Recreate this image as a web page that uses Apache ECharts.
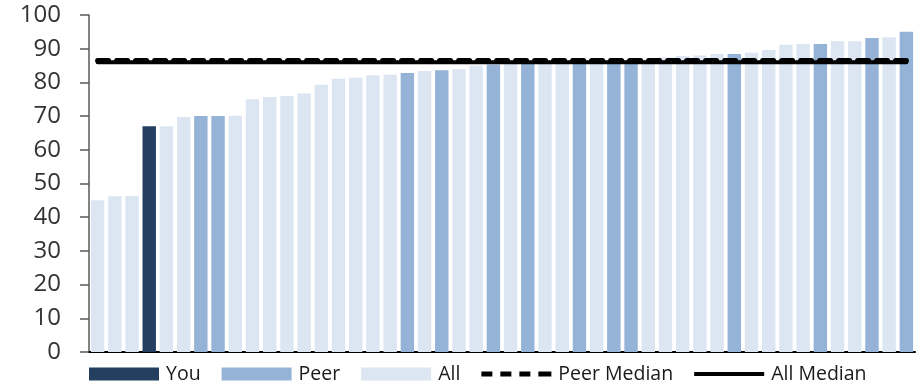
<!DOCTYPE html>
<html>
<head>
<meta charset="utf-8">
<script src="https://cdn.jsdelivr.net/npm/echarts@6/dist/echarts.min.js"></script>
<style>
  html, body { margin: 0; padding: 0; background: #fff; }
  #chart { width: 918px; height: 385px; }
</style>
</head>
<body>
<div id="chart"></div>
<script>
// 数据
const values = [
  45, 46.2, 46.3, 67, 67, 69.7, 70, 70, 70.1, 75, 75.7, 76,
  76.7, 79.3, 81.1, 81.4, 82.1, 82.3, 82.8, 83.4, 83.6, 83.9, 85, 85.3,
  85.6, 85.8, 86, 86.1, 86.2, 86.3, 86.4, 86.5, 86.8, 87.4, 87.8, 88,
  88.4, 88.4, 88.8, 89.6, 91.2, 91.4, 91.4, 92.2, 92.2, 93.2, 93.4, 95
];
// 每根柱子的分组: Y = You, P = Peer, A = All
const groups = [
  'A', 'A', 'A', 'Y', 'A', 'A', 'P', 'P', 'A', 'A', 'A', 'A',
  'A', 'A', 'A', 'A', 'A', 'A', 'P', 'A', 'P', 'A', 'A', 'P',
  'A', 'P', 'A', 'A', 'P', 'A', 'P', 'P', 'A', 'A', 'A', 'A',
  'A', 'P', 'A', 'A', 'A', 'A', 'P', 'A', 'A', 'P', 'A', 'P'
];
const peerMedian = 86.5;
const allMedian = 86;
const yTicks = [0, 100, 10]; // min, max, interval

const categories = values.map((v, i) => String(i + 1));
const pick = (g) => values.map((v, i) => (groups[i] === g ? v : null));

const chart = echarts.init(document.getElementById('chart'));

const barBase = {
  type: 'bar',
  barWidth: '78%',
  barGap: '-100%',
  z: 2
};

// 图例里的线条图标
const solidIcon = 'path://M0,0 L70,0 L70,4 L0,4 Z';
const dashIcon = 'path://M0,0 L11,0 L11,5 L0,5 Z M19,0 L30,0 L30,5 L19,5 Z M38,0 L49,0 L49,5 L38,5 Z M57,0 L70,0 L70,5 L57,5 Z';

const option = {
  backgroundColor: '#fff',
  animation: false,
  textStyle: { fontFamily: 'Open Sans' },
  grid: { left: 89, right: 3, top: 15, bottom: 33, containLabel: false },
  legend: {
    left: 89,
    top: 364,
    padding: 0,
    itemWidth: 70,
    itemHeight: 13,
    itemGap: 21,
    textStyle: { fontSize: 19.5, color: '#1a1a1a', fontFamily: 'Open Sans', padding: [0, 0, 0, 2] },
    data: [
      { name: 'You', icon: 'rect' },
      { name: 'Peer', icon: 'rect' },
      { name: 'All', icon: 'rect' },
      { name: 'Peer Median', icon: dashIcon },
      { name: 'All Median', icon: solidIcon }
    ]
  },
  xAxis: {
    type: 'category',
    data: categories,
    axisLine: { lineStyle: { color: '#000', width: 2 } },
    axisTick: { show: false },
    axisLabel: { show: false }
  },
  yAxis: {
    type: 'value',
    min: yTicks[0],
    max: yTicks[1],
    interval: yTicks[2],
    splitLine: { show: false },
    axisLine: { show: true, lineStyle: { color: '#595959', width: 1.5 } },
    axisTick: { show: true, length: 9, lineStyle: { color: '#595959', width: 1.5 } },
    axisLabel: { fontSize: 24, color: '#333', margin: 28, fontFamily: 'Open Sans' }
  },
  series: [
    Object.assign({}, barBase, { name: 'You', data: pick('Y'), itemStyle: { color: '#243F60' } }),
    Object.assign({}, barBase, { name: 'Peer', data: pick('P'), itemStyle: { color: '#95B3D7' } }),
    Object.assign({}, barBase, { name: 'All', data: pick('A'), itemStyle: { color: '#DCE6F2' } }),
    {
      name: 'All Median',
      type: 'line',
      data: values.map(() => allMedian),
      symbol: 'none',
      z: 5,
      lineStyle: { color: '#000', width: 4, cap: 'round' },
      itemStyle: { color: '#000' }
    },
    {
      name: 'Peer Median',
      type: 'line',
      data: values.map(() => peerMedian),
      symbol: 'none',
      z: 6,
      lineStyle: { color: '#000', width: 5, type: [11, 8], cap: 'round' },
      itemStyle: { color: '#000' }
    }
  ]
};

chart.setOption(option);
</script>
</body>
</html>
